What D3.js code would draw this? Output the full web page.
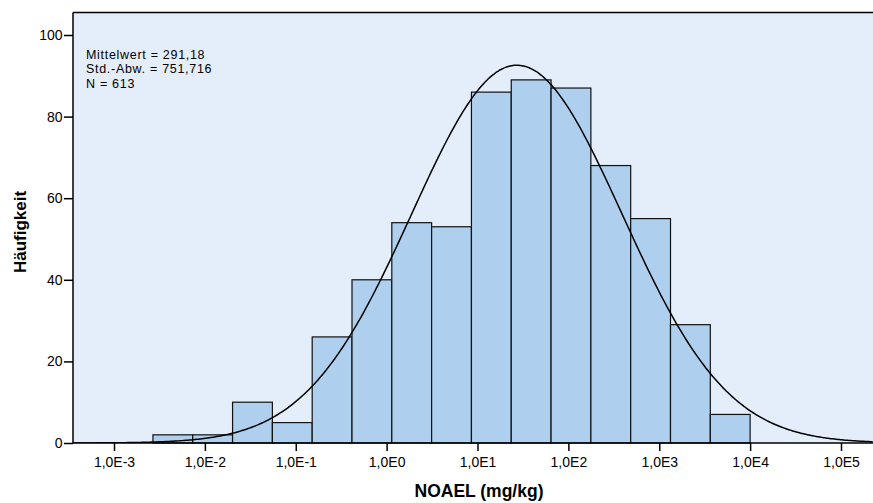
<!DOCTYPE html>
<html>
<head>
<meta charset="utf-8">
<script src="https://cdn.jsdelivr.net/npm/d3@7"></script>
<style>
  body { margin: 0; background: #fff; }
  svg { display: block; font-family: "Liberation Sans", Arial, Helvetica, sans-serif; }
</style>
</head>
<body>
<svg id="chart" width="873" height="503"></svg>
<script>
// Histogram of NOAEL values (log10 bins) with fitted normal curve
const binStart = -2.5715;          // log10 of first bin's lower edge
const binWidth = 0.43810;          // log10 width of each bin
const counts = [2, 2, 10, 5, 26, 40, 54, 53, 86, 89, 87, 68, 55, 29, 7];
const xTickExponents = [-3, -2, -1, 0, 1, 2, 3, 4, 5];
const xTickLabels = ["1,0E-3", "1,0E-2", "1,0E-1", "1,0E0", "1,0E1", "1,0E2", "1,0E3", "1,0E4", "1,0E5"];
const yTicks = [0, 20, 40, 60, 80, 100];
const statsLines = ["Mittelwert = 291,18", "Std.-Abw. = 751,716", "N = 613"];
const curveMean = 1.433;           // mean of log10 values
const curveSd = 1.157;             // sd of log10 values
const total = 613;

const plot = { left: 73, top: 12.5, right: 873, bottom: 443 };
const fontFamily = "Liberation Sans, Arial, sans-serif";

const svg = d3.select("#chart");

// log10 value -> pixel
const x = d3.scaleLinear().domain([-3, 5]).range([114, 841]);
const y = d3.scaleLinear().domain([0, 100]).range([plot.bottom, 35]);

// plot background
svg.append("rect")
  .attr("x", plot.left).attr("y", plot.top)
  .attr("width", plot.right - plot.left).attr("height", plot.bottom - plot.top)
  .attr("fill", "#e3eefa");

// bars
const bins = counts.map((c, i) => ({ x0: binStart + i * binWidth, x1: binStart + (i + 1) * binWidth, c }));
svg.append("g").selectAll("rect").data(bins).join("rect")
  .attr("x", d => x(d.x0))
  .attr("y", d => y(d.c))
  .attr("width", d => x(d.x1) - x(d.x0))
  .attr("height", d => y(0) - y(d.c))
  .attr("fill", "#aed0ee")
  .attr("stroke", "#111")
  .attr("stroke-width", 1.2);

// fitted normal curve scaled to counts
const scaleK = total * binWidth / (curveSd * Math.sqrt(2 * Math.PI));
const xs = d3.range(x.invert(plot.left), x.invert(plot.right) + 0.001, 0.02);
const curve = d3.line()
  .x(v => x(v))
  .y(v => y(scaleK * Math.exp(-0.5 * Math.pow((v - curveMean) / curveSd, 2))))
  .curve(d3.curveBasis);
svg.append("defs").append("clipPath").attr("id", "clip")
  .append("rect").attr("x", plot.left).attr("y", plot.top)
  .attr("width", plot.right - plot.left).attr("height", plot.bottom - plot.top);
svg.append("path")
  .datum(xs)
  .attr("clip-path", "url(#clip)")
  .attr("d", curve)
  .attr("fill", "none")
  .attr("stroke", "#000")
  .attr("stroke-width", 1.5);

// frame: top border
svg.append("line").attr("x1", plot.left).attr("x2", plot.right)
  .attr("y1", plot.top).attr("y2", plot.top)
  .attr("stroke", "#000").attr("stroke-width", 1.5);

// y axis
const yAxis = d3.axisLeft(y).tickValues(yTicks).tickSize(9).tickPadding(1.5).tickFormat(d3.format("d"));
const gy = svg.append("g").attr("transform", `translate(${plot.left},0)`).call(yAxis);
gy.select(".domain").remove();
gy.append("line").attr("x1", 0).attr("x2", 0).attr("y1", plot.top).attr("y2", plot.bottom)
  .attr("stroke", "#000").attr("stroke-width", 1.5);
gy.selectAll(".tick line").attr("stroke", "#000").attr("stroke-width", 1.5);
gy.selectAll(".tick text").attr("font-size", 14).attr("fill", "#000")
  .attr("font-family", fontFamily);

// x axis
const xAxis = d3.axisBottom(x).tickValues(xTickExponents).tickSize(8).tickPadding(6)
  .tickFormat((d, i) => xTickLabels[i]);
const gx = svg.append("g").attr("transform", `translate(0,${plot.bottom})`).call(xAxis);
gx.select(".domain").remove();
gx.append("line").attr("x1", plot.left).attr("x2", plot.right).attr("y1", 0).attr("y2", 0)
  .attr("stroke", "#000").attr("stroke-width", 1.5);
gx.selectAll(".tick line").attr("stroke", "#000").attr("stroke-width", 1.5);
gx.selectAll(".tick text").attr("font-size", 14).attr("fill", "#000")
  .attr("font-family", fontFamily);

// axis titles
svg.append("text")
  .attr("x", 479).attr("y", 497)
  .attr("text-anchor", "middle")
  .attr("font-size", 17.5).attr("font-weight", "bold")
  .text("NOAEL (mg/kg)");
svg.append("text")
  .attr("transform", "translate(25.5,232) rotate(-90)")
  .attr("text-anchor", "middle")
  .attr("font-size", 17).attr("font-weight", "bold")
  .text("Häufigkeit");

// summary statistics
svg.append("g").selectAll("text").data(statsLines).join("text")
  .attr("x", 86)
  .attr("y", (d, i) => 59 + i * 14.3)
  .attr("font-size", 12.5)
  .attr("letter-spacing", 0.7)
  .attr("fill", "#000")
  .text(d => d);
</script>
</body>
</html>
